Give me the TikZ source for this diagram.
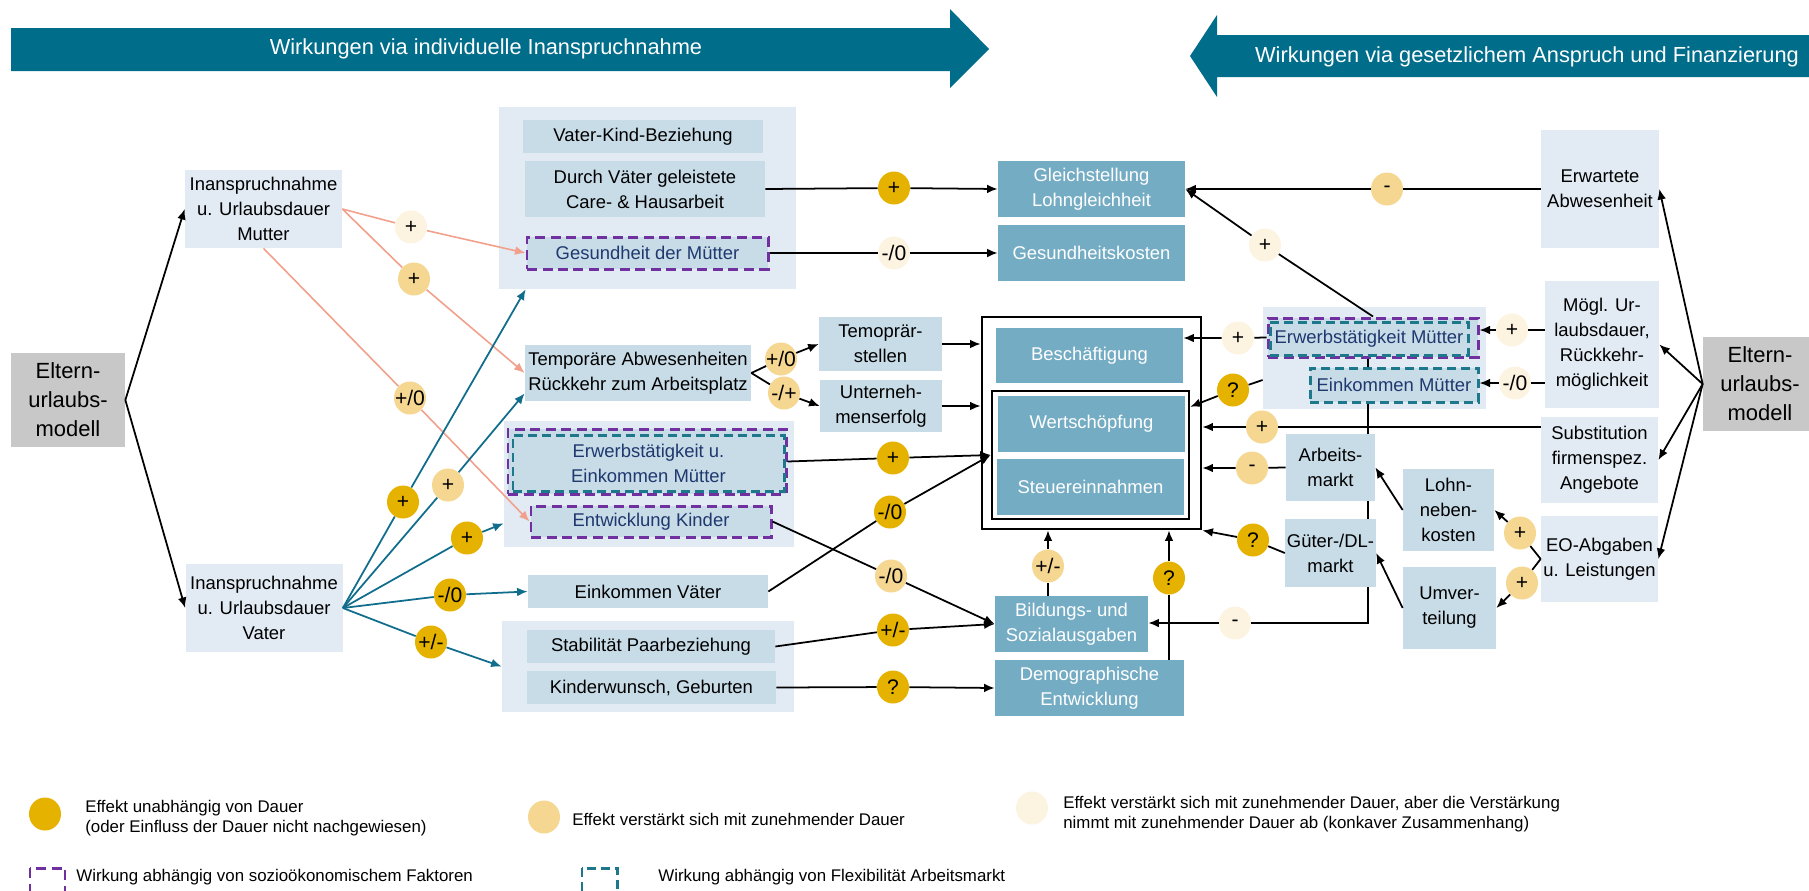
\documentclass[tikz,border=0pt]{standalone}
\usepackage{fontspec}
\setmainfont{Liberation Sans}
\usepackage{tikz}
\usetikzlibrary{arrows.meta,shapes.geometric,calc}

\definecolor{banner}{RGB}{0,109,138}
\definecolor{lightbg}{RGB}{226,235,244}
\definecolor{midbg}{RGB}{200,220,232}
\definecolor{darkbg}{RGB}{116,172,196}
\definecolor{graybg}{RGB}{200,200,200}
\definecolor{cgold}{RGB}{230,178,0}
\definecolor{csand}{RGB}{245,215,145}
\definecolor{ccream}{RGB}{253,243,225}
\definecolor{salmon}{RGB}{242,160,140}
\definecolor{tealline}{RGB}{16,110,140}
\definecolor{dpurple}{RGB}{112,48,160}
\definecolor{dteal}{RGB}{30,120,140}
\definecolor{dnavy}{RGB}{31,56,110}

\newcommand\boxfont{\fontsize{10.5pt}{14.2pt}\selectfont}
\newcommand\bubfont{\fontsize{12pt}{14pt}\selectfont}
\newcommand\bigfont{\fontsize{12.5pt}{16.5pt}\selectfont}
\newcommand\banfont{\fontsize{12.4pt}{15pt}\selectfont}
\newcommand\legfont{\fontsize{9.6pt}{11.4pt}\selectfont}

\tikzset{
sz/.style 2 args={minimum width=#1*0.02cm, minimum height=#2*0.02cm},
box/.style={rectangle, align=center, inner sep=1pt, font=\boxfont},
lbox/.style={box, fill=lightbg},
mbox/.style={box, fill=midbg},
dbox/.style={box, fill=darkbg, text=white},
grp/.style={rectangle, fill=lightbg, inner sep=0pt},
frame/.style={rectangle, draw, inner sep=0pt},
dashP/.style={draw=dpurple, line width=1.7pt, dash pattern=on 0.2cm off 0.11cm},
dashT/.style={draw=dteal, line width=1.7pt, dash pattern=on 0.18cm off 0.1cm},
bub/.style={ellipse, minimum width=0.64cm, minimum height=0.66cm, inner sep=0pt, font=\bubfont,
  execute at begin node={\hbox to 0pt\bgroup\hss}, execute at end node={\hss\egroup}},
bgold/.style={bub, fill=cgold},
bsand/.style={bub, fill=csand},
bcream/.style={bub, fill=ccream},
arr/.style={-{Latex[length=6pt,width=5pt]}, line width=1pt},
sal/.style={arr, draw=salmon, line width=0.9pt},
tl/.style={arr, draw=tealline},
leg/.style={anchor=west, align=left, inner sep=0pt, font=\legfont},
}

\begin{document}
\begin{tikzpicture}[x=0.02cm, y=-0.02cm]
\useasboundingbox[fill=white] (0,0) rectangle (1809,890);

% стрелки-заголовки
\fill[banner] (11,28) -- (950,28) -- (950,9) -- (989,49) -- (950,88) -- (950,71) -- (11,71) -- cycle;
\node[font=\banfont, text=white] (banL) at (486,49) {Wirkungen via individuelle Inanspruchnahme};
\fill[banner] (1830,35) -- (1217,35) -- (1217,15) -- (1190,56) -- (1217,97) -- (1217,77) -- (1830,77) -- cycle;
\node[font=\banfont, text=white] (banR) at (1527,57) {Wirkungen via gesetzlichem Anspruch und Finanzierung};

% группы
\node[grp, sz={297}{182}] (grpA) at (647.5,198) {};
\node[grp, sz={290}{126}] (grpB) at (649,484) {};
\node[grp, sz={292}{91}] (grpC) at (648,666.5) {};
\node[grp, sz={223}{102}] (grpD) at (1374.5,358) {};

% слева
\node[box, fill=graybg, font=\bigfont, sz={114}{94}] (elL) at (68,400) {Eltern-\\urlaubs-\\modell};
\node[lbox, sz={157}{78}] (mutter) at (263.5,209) {Inanspruchnahme\\u. Urlaubsdauer\\Mutter};
\node[lbox, sz={157}{88}] (vater) at (264,608) {Inanspruchnahme\\u. Urlaubsdauer\\Vater};

\node[mbox, sz={240}{33}] (vkb) at (643,136.5) {Vater-Kind-Beziehung};
\node[mbox, sz={240}{56}] (care) at (645,189) {Durch Väter geleistete\\Care- \& Hausarbeit};
\node[mbox, dashP, text=dnavy, sz={241}{32}] (gesM) at (647.5,253) {Gesundheit der Mütter};
\node[mbox, sz={226}{56}] (temp) at (638,373) {Temporäre Abwesenheiten\\Rückkehr zum Arbeitsplatz};
\node[mbox, dashP, sz={278}{65}] (erwMo) at (647,461.5) {};
\node[box, dashT, text=dnavy, sz={271}{56}] (erwM) at (648.5,463) {Erwerbstätigkeit u.\\Einkommen Mütter};
\node[mbox, dashP, text=dnavy, sz={240}{31}] (entK) at (651,521.5) {Entwicklung Kinder};
\node[mbox, sz={240}{33}] (einV) at (648,591.5) {Einkommen Väter};
\node[mbox, sz={248}{33}] (stab) at (651,646.5) {Stabilität Paarbeziehung};
\node[mbox, sz={249}{33}] (kiwu) at (651.5,687.5) {Kinderwunsch, Geburten};
\node[mbox, sz={123}{54}] (tstell) at (880.5,344) {Temoprär-\\stellen};
\node[mbox, sz={122}{52}] (unt) at (881,406) {Unterneh-\\menserfolg};

% центр
\node[dbox, sz={187}{56}] (gleich) at (1091.5,189) {Gleichstellung\\Lohngleichheit};
\node[dbox, sz={187}{56}] (gesK) at (1091.5,253) {Gesundheitskosten};
\node[frame, line width=1.6pt, sz={219}{212}] (outer) at (1091.5,423) {};
\node[dbox, sz={187}{55}] (besch) at (1089.5,355.5) {Beschäftigung};
\node[frame, line width=1.4pt, sz={197}{128}] (inner) at (1090.5,455) {};
\node[dbox, sz={187}{56}] (wert) at (1091.5,424) {Wertschöpfung};
\node[dbox, sz={187}{56}] (steuer) at (1090.5,487) {Steuereinnahmen};
\node[dbox, sz={153}{56}] (bild) at (1071.5,624) {Bildungs- und\\Sozialausgaben};
\node[dbox, sz={189}{56}] (demo) at (1089.5,688) {Demographische\\Entwicklung};

% справа
\node[mbox, dashP, sz={210}{39}] (erwMRo) at (1373,337.5) {};
\node[box, dashT, text=dnavy, sz={198}{33}] (erwMR) at (1369,338.5) {Erwerbstätigkeit Mütter};
\node[mbox, dashT, text=dnavy, sz={168}{34}] (einMR) at (1394,385) {Einkommen Mütter};
\node[mbox, sz={89}{67}] (arbm) at (1330.5,467.5) {Arbeits-\\markt};
\node[mbox, sz={89}{68}] (gueter) at (1330.5,553) {Güter-/DL-\\markt};
\node[mbox, sz={91}{82}] (lnk) at (1448.5,510) {Lohn-\\neben-\\kosten};
\node[mbox, sz={93}{82}] (umv) at (1449.5,608) {Umver-\\teilung};
\node[lbox, sz={118}{118}] (erw) at (1600,189) {Erwartete\\Abwesenheit};
\node[lbox, sz={114}{127}] (moegl) at (1602,344.5) {Mögl. Ur-\\laubsdauer,\\Rückkehr-\\möglichkeit};
\node[lbox, sz={117}{86}] (subst) at (1599.5,460) {Substitution\\firmenspez.\\Angebote};
\node[lbox, sz={117}{86}] (eo) at (1599.5,559) {EO-Abgaben\\u. Leistungen};
\node[box, fill=graybg, font=\bigfont, sz={114}{94}] (elR) at (1760,384) {Eltern-\\urlaubs-\\modell};

% пузырьки
\node[bcream] (b1) at (411,227) {+};
\node[bsand] (b2) at (414,279) {+};
\node[bsand] (b3) at (410,398) {+/0};
\node[bgold] (v1) at (403,502) {+};
\node[bsand] (v2) at (448,485) {+};
\node[bgold] (v3) at (467,538) {+};
\node[bgold] (v4) at (450,595) {-/0};
\node[bgold] (v5) at (431,642) {+/-};
\node[bgold] (bc) at (894,188) {+};
\node[bcream] (bg) at (894,253) {-/0};
\node[bsand] (t1) at (781,359) {+/0};
\node[bsand] (t2) at (784,393) {-/+};
\node[bgold] (m1) at (893,458) {+};
\node[bgold] (m2) at (890,512) {-/0};
\node[bsand] (m3) at (891,576) {-/0};
\node[bgold] (m4) at (893,630) {+/-};
\node[bgold] (m5) at (893,687) {?};
\node[bsand] (d1) at (1048,566) {+/-};
\node[bgold] (d2) at (1169,578) {?};
\node[bsand] (r1) at (1387,189) {-};
\node[bcream] (r2) at (1265,245) {+};
\node[bcream] (r3) at (1238,338) {+};
\node[bgold] (r4) at (1233,390) {?};
\node[bsand] (r5) at (1262,427) {+};
\node[bsand] (r6) at (1252,468) {-};
\node[bgold] (r7) at (1253,540) {?};
\node[bcream] (r8) at (1235,623) {-};
\node[bcream] (r9) at (1512,330) {+};
\node[bcream] (r10) at (1515,383) {-/0};
\node[bsand] (r11) at (1520,533) {+};
\node[bsand] (r12) at (1522,583) {+};

% связи слева
\draw[arr] (elL.east) -- (mutter.west);
\draw[arr] (elL.east) -- (vater.west);
\draw[sal] (mutter.east) -- (b1) -- (gesM.west);
\draw[sal] (mutter.east) -- (b2) -- (temp.west);
\draw[sal] (mutter.south) -- (b3) -- (entK.west);
\draw[tl] (vater.east) -- (v1) -- ($(grpA.south west)+(27,0)$);
\draw[tl] (vater.east) -- (v2) -- ($(temp.south west)+(0,-8)$);
\draw[tl] (vater.east) -- (v3) -- ($(grpB.south west)+(0,-24)$);
\draw[tl] (vater.east) -- (v4) -- (einV.west);
\draw[tl] (vater.east) -- (v5) -- (grpC.west);

% связи в центре
\draw[arr] (care.east) -- (bc) -- (gleich.west);
\draw[arr] (gesM.east) -- (bg) -- (gesK.west);
\draw[arr] (temp.east) -- (t1) -- (tstell.west);
\draw[arr] (temp.east) -- (t2) -- (unt.west);
\draw[arr] (tstell.east) -- (tstell.east -| outer.west);
\draw[arr] (unt.east) -- (unt.east -| outer.west);
\draw[arr] (erwMo.east) -- (m1) -- (inner.west);
\draw[arr] (einV.east) -- (m2) -- (inner.west);
\draw[arr] (entK.east) -- (m3) -- (bild.west);
\draw[arr] (stab.east) -- (m4) -- (bild.west);
\draw[arr] (kiwu.east) -- (m5) -- (demo.west);
\draw[arr] (d1 |- bild.north) -- (d1) -- (d1 |- outer.south);
\draw[arr] (d2 |- demo.north) -- (d2) -- (d2 |- outer.south);

% связи справа
\draw[arr] (erw.west) -- (r1) -- (gleich.east);
\draw[arr] (erwMRo.north) -- (r2) -- (gleich.east);
\draw[arr] (erwMRo.west) -- (r3) -- (r3 -| besch.east);
\draw[arr] (grpD.west |- 0,380) -- (r4) -- ([yshift=-0.34cm]inner.north east);
\draw[arr] (subst.west |- r5) -- (r5) -- (r5 -| outer.east);
\draw[arr] (arbm.west) -- (r6) -- (r6 -| outer.east);
\draw[arr] (gueter.west) -- (r7) -- (outer.south east);
\coordinate (vl) at (1368,0);
\draw[line width=1pt] (vl |- erwMRo.south) -- (vl |- einMR.north);
\draw[line width=1pt] (vl |- einMR.south) -- (vl |- arbm.north);
\draw[line width=1pt] (vl |- arbm.south) -- (vl |- gueter.north);
\draw[arr] (vl |- gueter.south) -- (vl |- r8) -- (r8) -- (r8 -| bild.east);
\draw[arr] (moegl.west |- r9) -- (r9) -- (r9 -| erwMRo.east);
\draw[arr] (moegl.west |- r10) -- (r10) -- (r10 -| einMR.east);
\draw[arr] (lnk.west) -- (arbm.east);
\draw[arr] (umv.west) -- (gueter.east);
\draw[arr] (eo.west) -- (r11) -- (lnk.east);
\draw[arr] (eo.west) -- (r12) -- (umv.east);
\draw[arr] (elR.west) -- (erw.east);
\draw[arr] (elR.west) -- (moegl.east);
\draw[arr] (elR.west) -- (subst.east);
\draw[arr] (elR.west) -- (eo.east);

% легенда
\node[bgold] (lg1) at (45,814) {};
\node[leg] (lt1) at (85,818) {Effekt unabhängig von Dauer\\(oder Einfluss der Dauer nicht nachgewiesen)};
\node[bsand] (lg2) at (544,817) {};
\node[leg] (lt2) at (572,819) {Effekt verstärkt sich mit zunehmender Dauer};
\node[bcream] (lg3) at (1032,808) {};
\node[leg] (lt3) at (1063,814.5) {Effekt verstärkt sich mit zunehmender Dauer, aber die Verstärkung\\nimmt mit zunehmender Dauer ab (konkaver Zusammenhang)};
\draw[dashP] (30,868) rectangle (65,903);
\node[leg] (lt4) at (76,877) {Wirkung abhängig von sozioökonomischem Faktoren};
\draw[dashT] (582,868) rectangle (617,903);
\node[leg] (lt5) at (658,877) {Wirkung abhängig von Flexibilität Arbeitsmarkt};
\end{tikzpicture}
\end{document}
